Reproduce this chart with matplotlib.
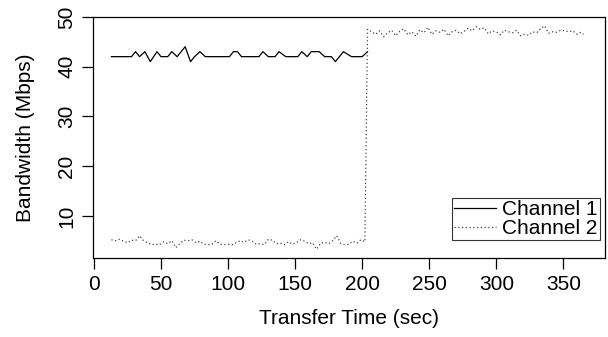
"""Bandwidth of two channels over a transfer, redrawn in matplotlib."""
import matplotlib
matplotlib.use("Agg")
import matplotlib.pyplot as plt

# channel 1: (time, bandwidth) vertices
ch1_time = [13, 28, 31, 34, 38, 42, 47, 50, 55, 58, 62, 65, 68, 72, 75, 79, 83,
            101, 104, 107, 110, 123, 126, 130, 135, 138, 143, 152, 155, 159, 162,
            168, 172, 177, 180, 186, 192, 200, 204]
ch1_bw = [42, 42, 43, 42, 43, 41, 43, 42, 42, 43, 42, 43, 44, 41, 42, 43, 42,
          42, 43, 43, 42, 42, 43, 42, 42, 43, 42, 42, 43, 42, 43,
          43, 42, 42, 41, 43, 42, 42, 43]

# channel 2: low phase then high phase
ch2_time = [13, 16, 19, 22, 25, 28, 31, 34, 37, 40, 43, 46, 49, 52, 55, 58, 61,
            64, 67, 70, 73, 76, 79, 82, 85, 88, 91, 94, 97, 100, 103, 106, 109,
            112, 115, 118, 121, 124, 127, 130, 133, 136, 139, 142, 145, 148, 151,
            154, 157, 160, 163, 166, 169, 172, 175, 178, 181, 184, 187, 190, 193,
            196, 199, 202, 204,
            207, 210, 213, 216, 219, 222, 225, 228, 231, 234, 237, 240, 243, 246,
            249, 252, 255, 258, 261, 264, 267, 270, 273, 276, 279, 282, 285, 288,
            291, 294, 297, 300, 303, 306, 309, 312, 315, 318, 321, 324, 327, 330,
            333, 336, 339, 342, 345, 348, 351, 354, 357, 360, 363, 365]
ch2_bw = [5.2, 5.0, 5.3, 4.9, 4.6, 5.1, 5.0, 6.0, 5.0, 4.6, 4.2, 4.3, 4.2, 4.8,
          4.4, 5.0, 3.6, 4.4, 5.1, 5.0, 5.2, 4.6, 4.9, 4.3, 4.2, 4.3, 5.0, 4.3,
          4.2, 4.3, 4.2, 4.6, 5.0, 4.7, 5.2, 4.9, 4.3, 4.4, 4.2, 5.3, 5.1, 4.4,
          4.5, 4.2, 4.8, 4.3, 4.6, 5.2, 4.9, 4.4, 4.6, 3.3, 4.5, 4.7, 4.4, 5.0,
          6.0, 4.5, 4.2, 4.3, 4.9, 4.5, 5.2, 4.8, 47.5,
          47.0, 46.5, 47.2, 46.0, 46.8, 47.3, 46.2, 47.1, 47.6, 46.4, 47.0, 46.1,
          47.4, 46.8, 47.9, 46.5, 47.2, 46.9, 47.5, 46.2, 47.0, 47.3, 46.6, 47.1,
          47.7, 47.2, 48.0, 47.5, 47.8, 46.6, 47.2, 47.0, 46.4, 47.3, 47.0, 46.8,
          47.3, 46.2, 46.5, 46.3, 47.0, 46.8, 47.6, 48.2, 46.7, 47.0, 46.9, 47.3,
          47.2, 47.0, 47.2, 46.5, 46.9, 46.5]

x_ticks = [0, 50, 100, 150, 200, 250, 300, 350]
y_ticks = [10, 20, 30, 40, 50]


def plot_bandwidth():
    """Draws both channels in an R-like base graphics style."""
    plt.rcParams["font.family"] = ["Liberation Sans", "DejaVu Sans"]
    fig = plt.figure(figsize=(6.08, 3.37), dpi=100)
    ax = fig.add_axes([0.153, 0.234, 0.842, 0.716])

    ax.plot(ch1_time, ch1_bw, color="black", lw=0.9, label="Channel 1")
    ax.plot(ch2_time, ch2_bw, color="#444444", lw=0.9, linestyle=(0, (1, 2)),
            label="Channel 2")

    ax.set_xlim(-0.7, 381)
    ax.set_ylim(1.5, 50)
    ax.set_xticks(x_ticks)
    ax.set_yticks(y_ticks)
    ax.tick_params(direction="out", length=8, width=0.9, labelsize=15, pad=4)
    for lab in ax.get_yticklabels():
        lab.set_rotation(90)
        lab.set_va("center")
    for sp in ax.spines.values():
        sp.set_linewidth(0.9)

    ax.set_xlabel("Transfer Time (sec)", fontsize=15, labelpad=11)
    ax.set_ylabel("Bandwidth (Mbps)", fontsize=15, labelpad=16)

    leg = ax.legend(loc="lower right", bbox_to_anchor=(0.99, 0.075),
                    borderaxespad=0, fontsize=15, frameon=True, fancybox=False,
                    handlelength=2.0, borderpad=0.1, labelspacing=0.0,
                    handletextpad=0.3)
    leg.get_frame().set_edgecolor("black")
    leg.get_frame().set_linewidth(0.8)

    fig.savefig("out.png", dpi=100)


if __name__ == "__main__":
    plot_bandwidth()
